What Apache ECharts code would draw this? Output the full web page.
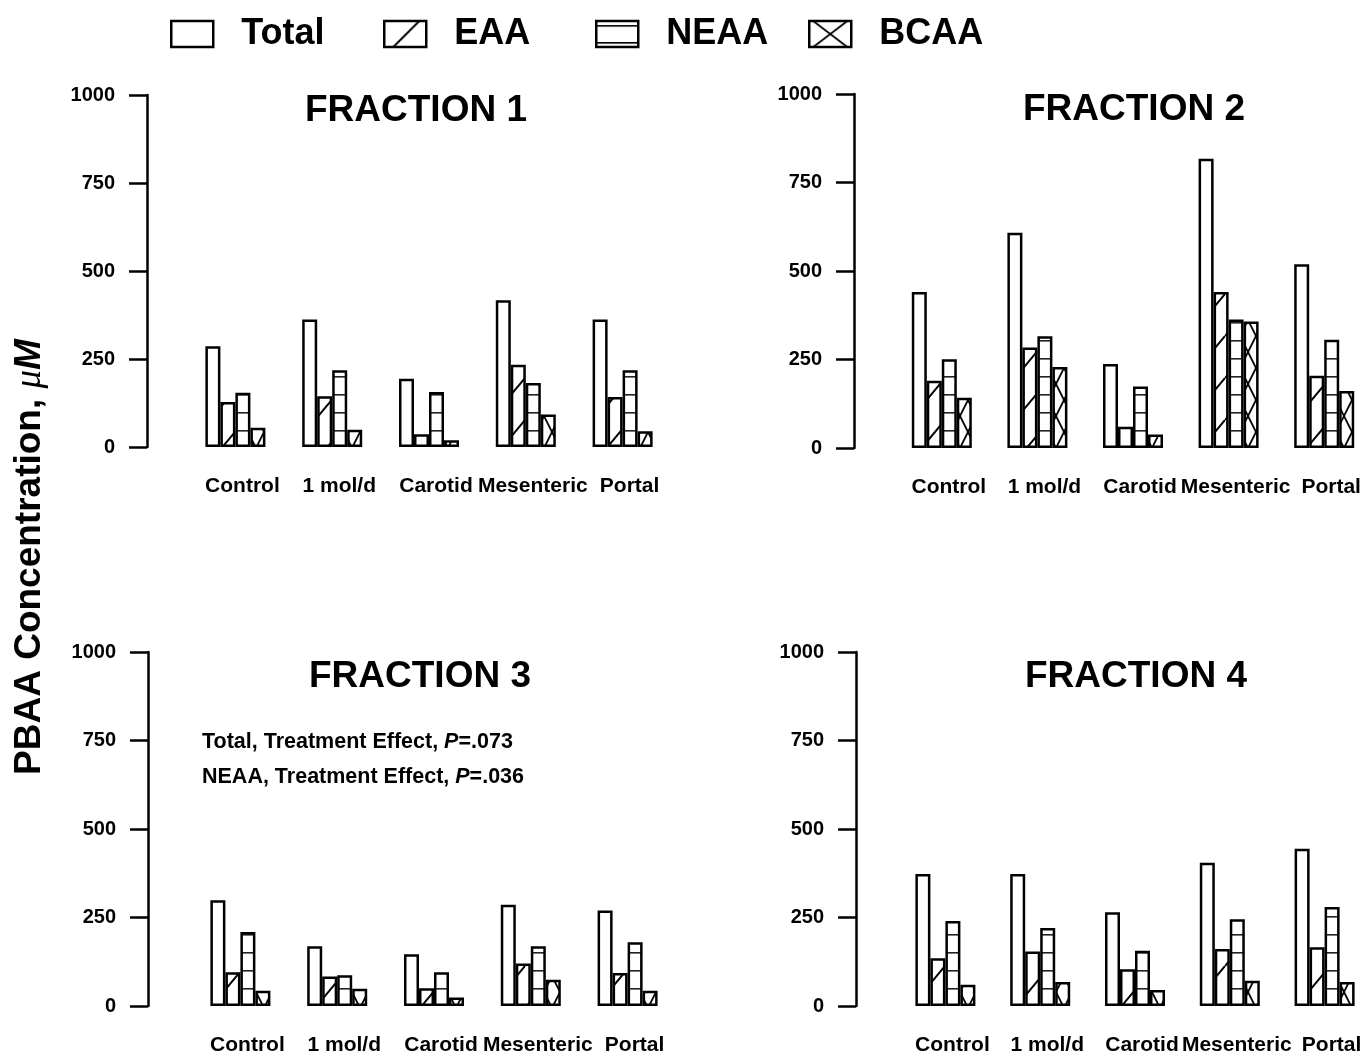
<!DOCTYPE html>
<html>
<head>
<meta charset="utf-8">
<script src="https://cdn.jsdelivr.net/npm/echarts@6/dist/echarts.min.js"></script>
<style>
html,body{margin:0;padding:0;background:#fff;}
#chart{width:1372px;height:1057px;}
</style>
</head>
<body>
<div id="chart"></div>
<script>
// ---------- data ----------
const categories = ['Control', '1 mol/d', 'Carotid', 'Mesenteric', 'Portal'];
const seriesNames = ['Total', 'EAA', 'NEAA', 'BCAA'];
const yTicks = [0, 250, 500, 750, 1000];

const f1Total = [286, 362, 194, 417, 362];
const f1EAA   = [128, 144, 36, 234, 142];
const f1NEAA  = [154, 218, 156, 182, 218];
const f1BCAA  = [55, 49, 19, 92, 45];

const f2Total = [441, 608, 237, 817, 519];
const f2EAA   = [190, 284, 60, 441, 204];
const f2NEAA  = [251, 316, 174, 363, 306];
const f2BCAA  = [142, 229, 38, 357, 161];

const f3Total = [299, 169, 146, 286, 270];
const f3EAA   = [95, 83, 50, 120, 93];
const f3NEAA  = [209, 87, 95, 169, 180];
const f3BCAA  = [43, 49, 24, 74, 43];

const f4Total = [373, 373, 265, 405, 444];
const f4EAA   = [135, 154, 104, 161, 166];
const f4NEAA  = [240, 220, 156, 245, 280];
const f4BCAA  = [60, 68, 45, 71, 68];

const panelTitles = ['FRACTION 1', 'FRACTION 2', 'FRACTION 3', 'FRACTION 4'];
const annotationLines = [['Total, Treatment Effect, ', 'P', '=.073'], ['NEAA, Treatment Effect, ', 'P', '=.036']];
const yAxisTitle = ['PBAA Concentration, ', '\u03bc', 'M'];

const panelData = [
  [f1Total, f1EAA, f1NEAA, f1BCAA],
  [f2Total, f2EAA, f2NEAA, f2BCAA],
  [f3Total, f3EAA, f3NEAA, f3BCAA],
  [f4Total, f4EAA, f4NEAA, f4BCAA]
];

// ---------- layout ----------
const panels = [
  {axisX: 147, gridLeft: 187, top: 95,  height: 352, titleX: 416,  titleY: 111},
  {axisX: 854, gridLeft: 894, top: 94,  height: 354, titleX: 1134, titleY: 110},
  {axisX: 148, gridLeft: 192, top: 652, height: 354, titleX: 420,  titleY: 677},
  {axisX: 856, gridLeft: 898, top: 652, height: 354, titleX: 1136, titleY: 677}
];
const gridWidth = 484;

// ---------- patterns ----------
function tile(w, h, draw) {
  const c = document.createElement('canvas');
  c.width = w; c.height = h;
  const ctx = c.getContext('2d');
  ctx.fillStyle = '#fff';
  ctx.fillRect(0, 0, w, h);
  ctx.strokeStyle = '#000';
  ctx.fillStyle = '#000';
  draw(ctx, w, h);
  return c;
}
const eaaTile = tile(35, 42, (ctx, w, h) => {
  ctx.lineWidth = 2;
  for (let k = -1; k <= 1; k++) {
    ctx.beginPath(); ctx.moveTo(0, h + k * h); ctx.lineTo(w, k * h); ctx.stroke();
  }
});
const neaaTile = tile(10, 18, (ctx, w, h) => {
  ctx.fillStyle = '#222';
  ctx.fillRect(0, 16, w, 1.6);
});
const bcaaTile = tile(16, 32, (ctx, w, h) => {
  ctx.lineWidth = 1.8;
  ctx.beginPath(); ctx.moveTo(0, 0); ctx.lineTo(w, h); ctx.stroke();
  ctx.beginPath(); ctx.moveTo(w, 0); ctx.lineTo(0, h); ctx.stroke();
});
// legend icon tiles (42x26)
const eaaIcon = tile(42, 26, (ctx, w, h) => {
  ctx.lineWidth = 2;
  ctx.beginPath(); ctx.moveTo(9, 26); ctx.lineTo(35, 0); ctx.stroke();
});
const neaaIcon = tile(42, 26, (ctx, w, h) => {
  ctx.fillRect(0, 4, w, 1.6);
  ctx.fillRect(0, 21, w, 1.6);
});
const bcaaIcon = tile(42, 26, (ctx, w, h) => {
  ctx.lineWidth = 1.8;
  ctx.beginPath(); ctx.moveTo(4, 0); ctx.lineTo(38, 26); ctx.stroke();
  ctx.beginPath(); ctx.moveTo(38, 0); ctx.lineTo(4, 26); ctx.stroke();
});

const fills = [
  '#ffffff',
  {image: eaaTile, repeat: 'repeat'},
  {image: neaaTile, repeat: 'repeat'},
  {image: bcaaTile, repeat: 'repeat'}
];
const iconFills = [
  '#ffffff',
  {image: eaaIcon, repeat: 'repeat'},
  {image: neaaIcon, repeat: 'repeat'},
  {image: bcaaIcon, repeat: 'repeat'}
];

const FONT = 'Liberation Sans, Arial, sans-serif';

// ---------- build option ----------
const grids = [], xAxes = [], yAxes = [], series = [], graphics = [];
panels.forEach((p, i) => {
  grids.push({left: p.gridLeft, top: p.top, width: gridWidth, height: p.height, containLabel: false});
  xAxes.push({
    gridIndex: i, type: 'category', data: categories, boundaryGap: true,
    axisLine: {show: false}, axisTick: {show: false}, splitLine: {show: false},
    axisLabel: {color: '#000', fontSize: 21, fontWeight: 'bold', fontFamily: FONT, margin: 29,
      interval: 0, padding: [0, 0, 0, 14]}
  });
  yAxes.push({
    gridIndex: i, type: 'value', min: yTicks[0], max: yTicks[yTicks.length - 1],
    interval: yTicks[1] - yTicks[0], offset: p.gridLeft - p.axisX,
    axisLine: {show: true, lineStyle: {color: '#000', width: 2.5}},
    axisTick: {show: true, length: 18, lineStyle: {color: '#000', width: 2.5}},
    axisLabel: {color: '#000', fontSize: 20, fontWeight: 'bold', fontFamily: FONT, margin: 32,
      formatter: v => String(v)},
    splitLine: {show: false}
  });
  seriesNames.forEach((name, s) => {
    series.push({
      type: 'bar', name: name, xAxisIndex: i, yAxisIndex: i,
      data: panelData[i][s], barWidth: 15, barGap: '0%',
      itemStyle: {color: fills[s], borderColor: '#000', borderWidth: 2.5},
      emphasis: {disabled: true}, silent: true, animation: false
    });
  });
  graphics.push({
    type: 'text', x: p.titleX, y: p.titleY,
    style: {text: panelTitles[i], fill: '#000', font: 'bold 37px ' + FONT,
      textAlign: 'center', textVerticalAlign: 'middle'}
  });
});

// annotations in Fraction 3
annotationLines.forEach((ln, k) => {
  graphics.push({
    type: 'text', x: 202, y: 742 + k * 35,
    style: {
      text: '{n|' + ln[0] + '}{i|' + ln[1] + '}{n|' + ln[2] + '}',
      textVerticalAlign: 'middle', textAlign: 'left',
      rich: {
        n: {fontSize: 21.5, fontWeight: 'bold', fontFamily: FONT, fill: '#000'},
        i: {fontSize: 21.5, fontWeight: 'bold', fontStyle: 'italic', fontFamily: FONT, fill: '#000'}
      }
    }
  });
});

// y-axis title
graphics.push({
  type: 'text', x: 30, y: 557, rotation: Math.PI / 2,
  style: {
    text: '{a|' + yAxisTitle[0] + '}{b|' + yAxisTitle[1] + '}{c|' + yAxisTitle[2] + '}',
    textAlign: 'center', textVerticalAlign: 'middle',
    rich: {
      a: {fontSize: 37, fontWeight: 'bold', fontFamily: FONT, fill: '#000'},
      b: {fontSize: 37, fontStyle: 'italic', fontFamily: 'Liberation Serif, serif', fill: '#000'},
      c: {fontSize: 37, fontWeight: 'bold', fontStyle: 'italic', fontFamily: FONT, fill: '#000'}
    }
  }
});

const legendLefts = [165, 378, 590, 803];
const legends = seriesNames.map((name, s) => ({
  show: true, left: legendLefts[s], top: 11, orient: 'horizontal',
  icon: 'rect', itemWidth: 42, itemHeight: 26, selectedMode: false,
  data: [{name: name, itemStyle: {color: iconFills[s], borderColor: '#000', borderWidth: 2.5}}],
  textStyle: {color: '#000', fontSize: 36, fontWeight: 'bold', fontFamily: FONT, padding: [0, 0, 0, 23]}
}));

const option = {
  backgroundColor: '#ffffff',
  animation: false,
  legend: legends,
  grid: grids,
  xAxis: xAxes,
  yAxis: yAxes,
  series: series,
  graphic: graphics
};

const chart = echarts.init(document.getElementById('chart'), null, {renderer: 'canvas'});
chart.setOption(option);
</script>
</body>
</html>
